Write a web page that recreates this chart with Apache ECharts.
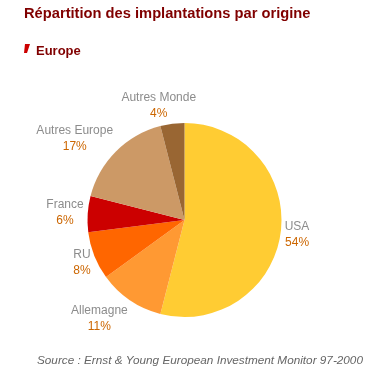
<!DOCTYPE html>
<html><head><meta charset="utf-8">
<script src="https://cdn.jsdelivr.net/npm/echarts@6/dist/echarts.min.js"></script>
<style>html,body{margin:0;padding:0;background:#fff}#c{width:372px;height:373px}</style>
</head><body><div id="c"></div>
<script>
const categories = ['USA', 'Allemagne', 'RU', 'France', 'Autres Europe', 'Autres Monde'];
const values = [54, 11, 8, 6, 17, 4];
const colors = ['#FFCC33', '#FF9933', '#FF6600', '#CC0000', '#CC9966', '#996633'];
const titleText = 'Répartition des implantations par origine';
const subText = 'Europe';
const sourceText = 'Source : Ernst & Young European Investment Monitor 97-2000';

const CX = 184.5, CY = 220, R = 97, LABEL_R = 101;
const total = values.reduce((a, b) => a + b, 0);
const starts = [];
values.reduce((acc, v, i) => { starts[i] = acc; return acc + v; }, 0);

const chart = echarts.init(document.getElementById('c'), null, {renderer: 'canvas'});
chart.setOption({
  backgroundColor: '#fff',
  animation: false,
  title: [
    {text: titleText, left: 19, top: 1,
     textStyle: {fontFamily: 'Liberation Sans, Arial', fontWeight: 'bold', fontSize: 14.7, color: '#800000'}},
    {text: subText, left: 31, top: 40,
     textStyle: {fontFamily: 'Liberation Sans, Arial', fontWeight: 'bold', fontSize: 13, color: '#800000'}},
    {text: sourceText, left: 32, top: 350,
     textStyle: {fontFamily: 'Liberation Sans, Arial', fontStyle: 'italic', fontWeight: 'normal', fontSize: 11.75, color: '#666666'}}
  ],
  graphic: [
    {type: 'polygon', shape: {points: [[25, 44], [30, 44], [27, 53], [24, 53]]}, style: {fill: '#CC0000'}}
  ],
  series: [{
    type: 'pie',
    center: [CX, CY],
    radius: R,
    startAngle: 90,
    clockwise: true,
    avoidLabelOverlap: false,
    data: categories.map((c, i) => ({name: c, value: values[i], itemStyle: {color: colors[i]}})),
    label: {
      show: true,
      position: 'outside',
      formatter: '{n|{b}}\n{p|{d}%}',
      rich: {
        n: {fontFamily: 'Liberation Sans, Arial', fontSize: 12, color: '#8c8c8c', align: 'center', lineHeight: 16},
        p: {fontFamily: 'Liberation Sans, Arial', fontSize: 12, color: '#cc6600', align: 'center', lineHeight: 16}
      }
    },
    labelLine: {show: false, length: 4, length2: 0},
    labelLayout: function (p) {
      const i = p.dataIndex;
      const mid = (starts[i] + values[i] / 2) / total * 2 * Math.PI;
      const dx = Math.sin(mid), dy = -Math.cos(mid);
      const w = p.labelRect.width, h = p.labelRect.height;
      const fx = Math.sign(dx) * Math.min(1, 2.8 * Math.abs(dx));
      const fy = dy > 0.5 ? 1.3 * dy : dy;
      return {
        x: CX + LABEL_R * dx + fx * w / 2,
        y: CY + LABEL_R * dy + fy * h / 2,
        align: 'center',
        verticalAlign: 'middle'
      };
    },
    itemStyle: {borderWidth: 0}
  }]
});
</script></body></html>
